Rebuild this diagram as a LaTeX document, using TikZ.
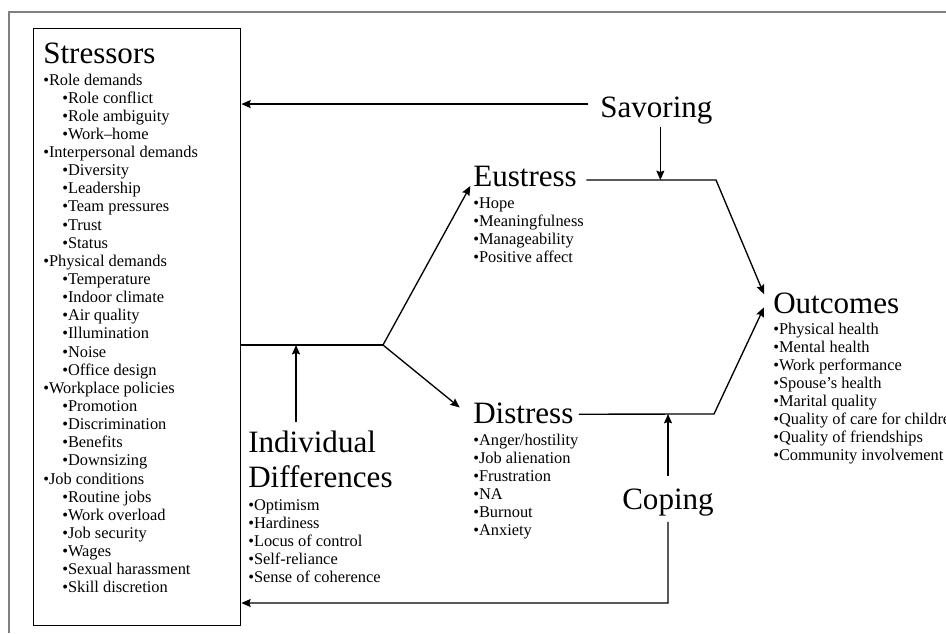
\documentclass[tikz,border=0pt]{standalone}
\usepackage{fontspec}
\setmainfont{Liberation Serif}
\usetikzlibrary{arrows.meta}
\begin{document}
\begin{tikzpicture}[x=0.75pt,y=-0.75pt,
  head/.style={anchor=base west,inner sep=0pt,font=\fontsize{23.3}{28}\selectfont},
  item/.style={anchor=base west,inner sep=0pt,font=\fontsize{12.3}{14}\selectfont},
  link/.style={line width=1pt},
  arr/.style={line width=1pt,-{Stealth[length=7pt,width=6pt,inset=1pt]}}]
  \useasboundingbox (0,0) rectangle (946,633);
  % Page frame
  \draw[black!50,line width=1.3pt] (946,12) -- (9,12) -- (9,633);
  % Stressors box
  \node[draw,line width=1pt,anchor=north west,inner sep=0pt,
        minimum width=155.25pt,minimum height=447.75pt] (box) at (33,28) {};
  \node[head] (stress) at (43,63) {Stressors};
  \foreach \lv/\txt [count=\i from 0] in {0/Role demands,1/Role conflict,1/Role ambiguity,
      1/Work–home,0/Interpersonal demands,1/Diversity,1/Leadership,1/Team pressures,1/Trust,
      1/Status,0/Physical demands,1/Temperature,1/Indoor climate,1/Air quality,1/Illumination,
      1/Noise,1/Office design,0/Workplace policies,1/Promotion,1/Discrimination,1/Benefits,
      1/Downsizing,0/Job conditions,1/Routine jobs,1/Work overload,1/Job security,1/Wages,
      1/Sexual harassment,1/Skill discretion}
    \node[item] (s\i) at (43+19*\lv,85+18.14*\i) {\textbullet\txt};
  % Individual differences
  \node[head] (indiv) at (248,452) {Individual};
  \node[head] (diff) at (248,487) {Differences};
  \foreach \txt [count=\i from 0] in {Optimism,Hardiness,Locus of control,Self-reliance,Sense of coherence}
    \node[item] (d\i) at (248,510+18.2*\i) {\textbullet\txt};
  % Eustress and distress
  \node[head] (eus) at (473,186) {Eustress};
  \foreach \txt [count=\i from 0] in {Hope,Meaningfulness,Manageability,Positive affect}
    \node[item] (e\i) at (473,208+18*\i) {\textbullet\txt};
  \node[head] (dis) at (473,423) {Distress};
  \foreach \txt [count=\i from 0] in {{Anger/hostility},Job alienation,Frustration,NA,Burnout,Anxiety}
    \node[item] (t\i) at (473,445+18*\i) {\textbullet\txt};
  % Moderators
  \node[head] (savor) at (600,117) {Savoring};
  \node[head] (cope) at (622,509) {Coping};
  % Outcomes
  \node[head] (out) at (773,313) {Outcomes};
  \foreach \txt [count=\i from 0] in {Physical health,Mental health,Work performance,Spouse’s health,
      Marital quality,Quality of care for children,Quality of friendships,Community involvement}
    \node[item] (o\i) at (773,334+18*\i) {\textbullet\txt};
  % Paths
  \coordinate (split) at (383,345);
  \coordinate (idup) at (296,422);
  \coordinate (eR) at (716,180);
  \coordinate (dR) at (714,414);
  \coordinate (cB) at (668,603);
  \draw[link] (box.east |- split) -- (split);
  \draw[arr] (idup) -- (idup |- split);
  \draw[arr] (split) -- ([xshift=-2pt]eus.base west);
  \draw[arr] (split) -- ([shift={(-10pt,-4pt)}]dis.north west);
  \draw[arr] ([shift={(7pt,-3pt)}]eus.east) -- (eR) -- ([shift={(-6.75pt,-1.5pt)}]out.north west);
  \draw[arr] ([shift={(4pt,-1pt)}]dis.east) -- (dR) -- ([shift={(-6.75pt,-3.4pt)}]out.west);
  % Savoring feeds back and moderates
  \draw[arr] ([shift={(-9pt,4.5pt)}]savor.west) coordinate (sv) -- (sv -| box.east);
  \draw[arr] ([shift={(3pt,-2pt)}]savor.south) coordinate (sd) -- (sd |- eR);
  % Coping moderates and feeds back
  \draw[arr] ([yshift=9pt]cope.north) coordinate (cu) -- (cu |- dR);
  \draw[arr] ([yshift=-4.5pt]cope.south) -- (cB) -- (cB -| box.east);
\end{tikzpicture}
\end{document}
